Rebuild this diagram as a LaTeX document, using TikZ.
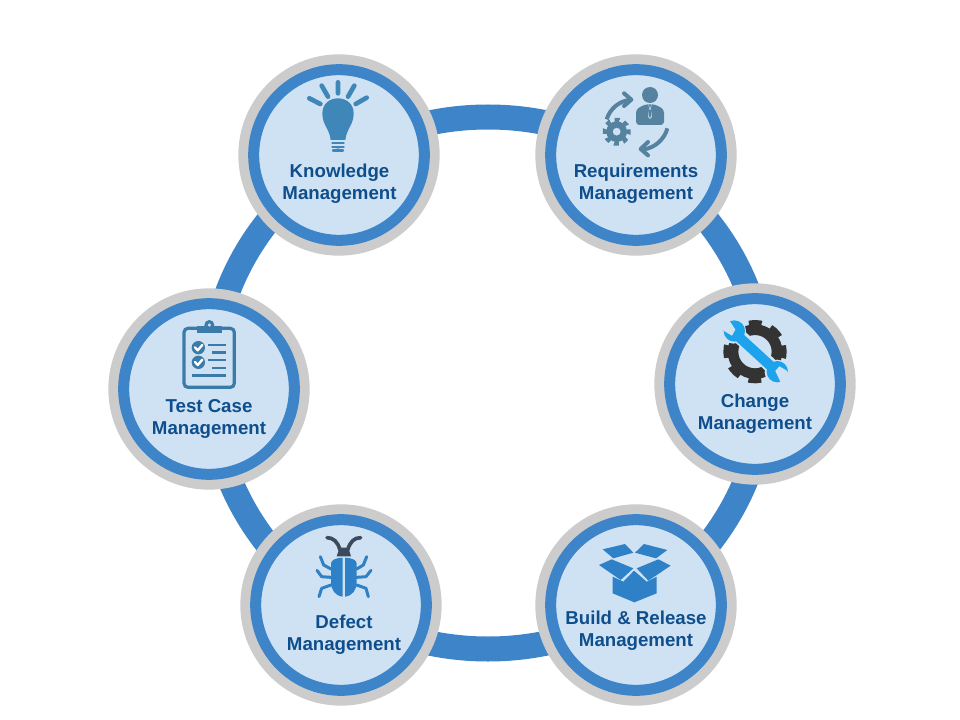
\documentclass[tikz,border=0pt]{standalone}
\usepackage{fontspec}
\setmainfont{Liberation Sans}
\usetikzlibrary{positioning}
\definecolor{HubBlue}{HTML}{3E84C8}
\definecolor{HubPale}{HTML}{CFE2F3}
\definecolor{HubGray}{HTML}{CCCCCC}
\definecolor{HubText}{HTML}{0F4E8C}
\definecolor{BulbBlue}{HTML}{3F87B9}
\definecolor{SlateBlue}{HTML}{55829F}
\definecolor{WrenchBlue}{HTML}{1CA3EC}
\definecolor{GearDark}{HTML}{333333}
\definecolor{BoxBlue}{HTML}{2E81C6}
\definecolor{BugDark}{HTML}{3B4A5C}
\definecolor{ClipBlue}{HTML}{3B7BA9}
\begin{document}
\begin{tikzpicture}[
  x=.75pt, y=-.75pt,
  halo/.style={circle, fill=HubGray, minimum size=151pt, inner sep=0pt},
  hub/.style={circle, fill=HubPale, draw=HubBlue, line width=8.25pt, minimum size=128pt, inner sep=0pt},
  caption/.style={align=center, text=HubText, font=\fontsize{14}{16.5}\selectfont\bfseries},
  ring/.style={draw=HubBlue, line width=18.75pt},
  crop/.style={x=.25pt, y=-.25pt},
  stroke/.style={line width=#1*.25pt, line cap=round, line join=round}
]
  \useasboundingbox (0,0) rectangle (960,720);
  \fill[white] (0,0) rectangle (960,720);
  \draw[ring] (488,383) ellipse [x radius=277, y radius=266];

  \node[halo] (knowOuter) at (339,155) {};
  \node[hub] (know) at (knowOuter) {};
  \node[halo] (reqOuter) at (636,155) {};
  \node[hub] (req) at (reqOuter) {};
  \node[halo] (changeOuter) at (755,384) {};
  \node[hub] (change) at (changeOuter) {};
  \node[halo] (buildOuter) at (636,605) {};
  \node[hub] (build) at (buildOuter) {};
  \node[halo] (defectOuter) at (341,605) {};
  \node[hub] (defect) at (defectOuter) {};
  \node[halo] (testOuter) at (209,389) {};
  \node[hub] (test) at (testOuter) {};

  \node[caption] (knowText) at (339.5,184) {Knowledge\\Management};
  \node[caption] (reqText) at (636,184) {Requirements\\Management};
  \node[caption] (changeText) at (755,414) {Change\\Management};
  \node[caption] (buildText) at (636,631) {Build \& Release\\Management};
  \node[caption] (defectText) at (344,635) {Defect\\Management};
  \node[caption] (testText) at (209,419) {Test Case\\Management};

  % bulb
  \begin{scope}[shift={(240,50)}, crop]
    \draw[BulbBlue, stroke=14] (294,97) -- (294,130) (245,107) -- (264,140) (343,107) -- (324,140)
      (208,145) -- (241,162) (380,143) -- (347,162);
    \fill[BulbBlue] (272,270) .. controls (268,235) and (247,225) .. (247,190)
      .. controls (247,162) and (268,145) .. (294,145) .. controls (320,145) and (341,162) .. (341,190)
      .. controls (341,225) and (320,235) .. (316,270) -- cycle;
    \draw[BulbBlue, stroke=7] (277,279) -- (311,279) (277,291) -- (311,291) (279,302) -- (309,302);
    \fill[BulbBlue] (283,306) -- (305,306) arc [start angle=0, end angle=-180, radius=11] -- cycle;
  \end{scope}

  % person and gear
  \begin{scope}[shift={(580,70)}, crop]
    \fill[SlateBlue] (210,75) circle [radius=24];
    \fill[SlateBlue, rounded corners=2.5pt] (168,165) -- (168,118) -- (195,103) -- (225,103) -- (252,118) -- (252,165) -- cycle;
    \fill[HubPale] (205,104) -- (215,104) -- (212,115) -- (216,140) -- (210,147) -- (204,140) -- (208,115) -- cycle;
    \fill[SlateBlue] (207,104) -- (213,104) -- (211,114) -- (209,114) -- cycle;
    \fill[SlateBlue] (208,118) -- (212,118) -- (214,138) -- (210,143) -- (206,138) -- cycle;
    \draw[SlateBlue, stroke=12, line cap=butt] (80,148) .. controls (90,115) and (120,92) .. (150,90);
    \draw[SlateBlue, stroke=12] (132,70) -- (154,89) -- (132,108);
    \draw[SlateBlue, stroke=12, line cap=butt] (262,175) .. controls (255,205) and (225,235) .. (190,238);
    \draw[SlateBlue, stroke=12] (204,216) -- (182,237) -- (204,256);
    \draw[SlateBlue, line width=3.2pt, dash pattern=on 3.6pt off 3.47pt, rotate around={11.5:(110,185)}] (110,185) circle [radius=36];
    \fill[SlateBlue, even odd rule] (110,185) circle [radius=31] (110,185) circle [radius=12];
  \end{scope}

  % gear and wrench
  \begin{scope}[shift={(700,305)}, crop]
    \draw[GearDark, line width=7.5pt, dash pattern=on 9pt off 6.7pt, rotate around={13:(165,140)}] (165,140) circle [radius=80];
    \draw[GearDark, line width=8pt] (165,140) circle [radius=66];
    \draw[HubPale, line width=11pt] (95,72) -- (240,208);
    \fill[HubPale] (100,78) circle [radius=38] (232,202) circle [radius=38];
    \draw[WrenchBlue, line width=7.5pt] (105,85) -- (225,195);
    \fill[WrenchBlue] (103,78) circle [radius=32] (232,200) circle [radius=32];
    \fill[HubPale] (72,78) -- (96,92) -- (106,74) -- (88,46) -- (60,46) -- cycle;
    \fill[HubPale] (262,198) -- (238,184) -- (226,198) -- (242,232) -- (270,232) -- cycle;
  \end{scope}

  % open box
  \begin{scope}[shift={(580,530)}, crop]
    \fill[BoxBlue] (68,58) -- (135,42) -- (160,68) -- (100,85) -- cycle;
    \fill[BoxBlue] (165,68) -- (192,42) -- (262,60) -- (228,85) -- cycle;
    \fill[BoxBlue] (57,105) -- (95,88) -- (160,115) -- (122,150) -- cycle;
    \fill[BoxBlue] (272,107) -- (235,88) -- (170,115) -- (205,152) -- cycle;
    \fill[BoxBlue] (98,140) -- (130,155) -- (162,122) -- (200,155) -- (230,140) -- (230,190) -- (163,217) -- (98,190) -- cycle;
  \end{scope}

  % bug
  \begin{scope}[shift={(295,525)}, crop]
    \draw[BugDark, stroke=11] (96,38) .. controls (115,38) and (128,50) .. (135,75);
    \draw[BugDark, stroke=11] (197,38) .. controls (178,38) and (165,50) .. (158,75);
    \fill[BugDark] (125,94) -- (134,68) -- (160,68) -- (168,94) -- cycle;
    \fill[BoxBlue] (143,98) -- (143,215) .. controls (120,212) and (108,195) .. (108,170) -- (108,115) .. controls (108,105) and (125,98) .. (143,98) -- cycle;
    \fill[BoxBlue] (150,98) -- (150,215) .. controls (173,212) and (185,195) .. (185,170) -- (185,115) .. controls (185,105) and (168,98) .. (150,98) -- cycle;
    \draw[BoxBlue, stroke=9] (76,95) -- (86,120) -- (108,132) (66,136) -- (80,155) -- (108,157) (72,215) -- (80,190) -- (108,180);
    \draw[BoxBlue, stroke=9] (215,95) -- (205,120) -- (185,132) (228,136) -- (213,155) -- (185,157) (220,215) -- (213,190) -- (185,180);
  \end{scope}

  % clipboard
  \begin{scope}[shift={(165,310)}, crop]
    \draw[ClipBlue, line width=2.4pt, rounded corners=3pt] (97,55) -- (57,55) -- (57,232) -- (208,232) -- (208,55) -- (170,55);
    \fill[ClipBlue] (97,48) rectangle (170,69);
    \fill[ClipBlue] (133,45) circle [radius=15];
    \fill[HubPale] (133,45) circle [radius=5];
    \fill[ClipBlue] (100,113) circle [radius=20];
    \fill[ClipBlue] (100,157) circle [radius=20];
    \draw[white, stroke=7] (90,112) -- (98,121) -- (112,105) (90,156) -- (98,165) -- (112,149);
    \draw[ClipBlue, stroke=7, line cap=butt] (130,105) -- (183,105) (140,127) -- (183,127) (130,150) -- (183,150) (140,173) -- (183,173) (82,196) -- (183,196);
  \end{scope}
\end{tikzpicture}
\end{document}
